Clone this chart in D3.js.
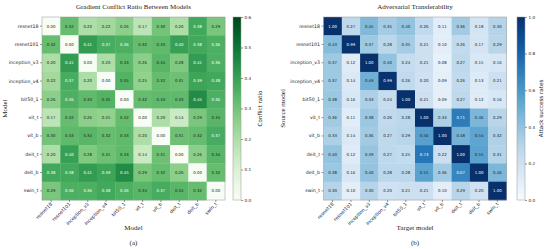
<!DOCTYPE html>
<html><head><meta charset="utf-8">
<script src="https://cdn.jsdelivr.net/npm/d3@7"></script>
<style>body{margin:0;background:#fff}svg{display:block}</style>
</head><body>
<svg id="c" width="550" height="249"></svg>
<script>
const models = ["resnet18","resnet101","inception_v3","inception_v4","bit50_1","vit_t","vit_b","deit_t","deit_b","swin_t"];
const conflict = [
 [0.00,0.32,0.20,0.22,0.26,0.17,0.30,0.20,0.38,0.29],
 [0.32,0.00,0.41,0.37,0.36,0.32,0.33,0.40,0.38,0.36],
 [0.20,0.41,0.00,0.20,0.33,0.26,0.34,0.28,0.41,0.36],
 [0.22,0.37,0.20,0.00,0.35,0.25,0.32,0.31,0.39,0.38],
 [0.26,0.36,0.33,0.35,0.00,0.32,0.33,0.33,0.45,0.36],
 [0.17,0.32,0.26,0.25,0.32,0.00,0.20,0.14,0.29,0.34],
 [0.30,0.33,0.34,0.32,0.33,0.20,0.00,0.31,0.32,0.37],
 [0.20,0.40,0.28,0.31,0.33,0.14,0.31,0.00,0.26,0.34],
 [0.38,0.38,0.41,0.39,0.45,0.29,0.32,0.26,0.00,0.32],
 [0.29,0.36,0.36,0.38,0.36,0.34,0.37,0.34,0.32,0.00]
];
const transfer = [
 [1.00,0.27,0.45,0.35,0.40,0.26,0.11,0.36,0.18,0.30],
 [0.43,0.99,0.37,0.28,0.35,0.21,0.10,0.26,0.17,0.29],
 [0.37,0.12,1.00,0.40,0.24,0.21,0.08,0.27,0.15,0.16],
 [0.37,0.14,0.49,0.99,0.26,0.20,0.09,0.26,0.13,0.21],
 [0.38,0.16,0.33,0.24,1.00,0.21,0.09,0.27,0.12,0.16],
 [0.36,0.11,0.38,0.26,0.28,1.00,0.33,0.71,0.46,0.29],
 [0.33,0.14,0.36,0.27,0.29,0.56,1.00,0.48,0.54,0.32],
 [0.40,0.12,0.39,0.27,0.25,0.73,0.22,1.00,0.55,0.31],
 [0.38,0.16,0.40,0.28,0.28,0.55,0.36,0.67,1.00,0.46],
 [0.30,0.10,0.30,0.20,0.21,0.21,0.10,0.29,0.20,1.00]
];
const conflictTicks = [0.0,0.1,0.2,0.3,0.4,0.5,0.6];
const transferTicks = [0.0,0.2,0.4,0.6,0.8,1.0];

const svg = d3.select("#c");
const SANS = "DejaVu Sans, sans-serif";
const SERIF = "Liberation Serif, Times New Roman, serif";

function panel(o){
  const g = svg.append("g");
  const x = d3.scaleBand().domain(models).range([o.x0, o.x1]);
  const y = d3.scaleBand().domain(models).range([o.y0, o.y1]);
  const color = d3.scaleSequential(o.interp).domain([0, o.vmax]);
  const cells = [];
  o.data.forEach((row,i)=>row.forEach((v,j)=>cells.push({r:models[i],c:models[j],v})));
  g.selectAll("rect.cell").data(cells).join("rect")
    .attr("x",d=>x(d.c)).attr("y",d=>y(d.r))
    .attr("width",x.bandwidth()+0.3).attr("height",y.bandwidth()+0.3)
    .attr("fill",d=>color(d.v));
  g.selectAll("text.val").data(cells).join("text")
    .attr("x",d=>x(d.c)+x.bandwidth()/2).attr("y",d=>y(d.r)+y.bandwidth()/2)
    .attr("dy","0.35em").attr("text-anchor","middle")
    .attr("font-family",SANS).attr("font-size",3.9)
    .attr("fill",d=> d.v/o.vmax >= 0.595 ? "#fff" : "#222")
    .text(d=>d.v.toFixed(2));
  g.append("rect").attr("x",o.x0).attr("y",o.y0).attr("width",o.x1-o.x0).attr("height",o.y1-o.y0)
    .attr("fill","none").attr("stroke","#999").attr("stroke-width",0.5);
  // axes
  const ax = g.append("g").attr("transform",`translate(0,${o.y1})`)
    .call(d3.axisBottom(x).tickSize(2).tickPadding(1.5));
  ax.select(".domain").remove();
  ax.selectAll("line").attr("stroke","#333").attr("stroke-width",0.5);
  ax.selectAll("text").attr("font-family",SANS).attr("font-size",4.7).attr("fill","#222")
    .attr("text-anchor","end").attr("dy","0.3em")
    .attr("transform","translate(-2,1) rotate(-45)");
  const ay = g.append("g").attr("transform",`translate(${o.x0},0)`)
    .call(d3.axisLeft(y).tickSize(2).tickPadding(1.5));
  ay.select(".domain").remove();
  ay.selectAll("line").attr("stroke","#333").attr("stroke-width",0.5);
  ay.selectAll("text").attr("font-family",SANS).attr("font-size",4.7).attr("fill","#222");
  // colorbar
  const cb = o.cbx, cw = 8;
  const cy = d3.scaleLinear().domain([0,o.vmax]).range([o.y1,o.y0]);
  const gid = "grad"+o.id;
  const grad = svg.append("defs").append("linearGradient").attr("id",gid)
    .attr("x1",0).attr("y1",1).attr("x2",0).attr("y2",0);
  d3.range(0,1.0001,0.05).forEach(t=>grad.append("stop").attr("offset",t).attr("stop-color",o.interp(t)));
  g.append("rect").attr("x",cb).attr("y",o.y0).attr("width",cw).attr("height",o.y1-o.y0)
    .attr("fill",`url(#${gid})`).attr("stroke","#999").attr("stroke-width",0.5);
  const ac = g.append("g").attr("transform",`translate(${cb+cw},0)`)
    .call(d3.axisRight(cy).tickValues(o.ticks).tickFormat(d3.format(".1f")).tickSize(2).tickPadding(1.5));
  ac.select(".domain").remove();
  ac.selectAll("line").attr("stroke","#333").attr("stroke-width",0.5);
  ac.selectAll("text").attr("font-family",SANS).attr("font-size",4.2).attr("fill","#222");
  g.append("text").attr("transform",`translate(${o.cblabx},${(o.y0+o.y1)/2}) rotate(-90)`)
    .attr("text-anchor","middle").attr("dy","0.35em").attr("font-family",SANS).attr("font-size",5.6)
    .attr("fill","#222").text(o.cblabel);
  // titles / labels
  const cx = (o.x0+o.x1)/2;
  g.append("text").attr("x",cx).attr("y",8.5).attr("text-anchor","middle")
    .attr("font-family",SERIF).attr("font-size",7).attr("fill","#222").text(o.title);
  g.append("text").attr("x",cx).attr("y",230).attr("text-anchor","middle")
    .attr("font-family",SERIF).attr("font-size",7).attr("fill","#222").text(o.xlabel);
  g.append("text").attr("transform",`translate(${o.ylabx},${(o.y0+o.y1)/2}) rotate(-90)`)
    .attr("text-anchor","middle").attr("dy","0.35em")
    .attr("font-family",SERIF).attr("font-size",7).attr("fill","#222").text(o.ylabel);
  g.append("text").attr("x",cx).attr("y",244.5).attr("text-anchor","middle")
    .attr("font-family",SERIF).attr("font-size",7).attr("fill","#222").text(o.tag);
}

panel({id:"a",data:conflict,vmax:0.6,interp:d3.interpolateGreens,ticks:conflictTicks,
  x0:42,x1:225,y0:17,y1:200,cbx:233,cblabx:260,cblabel:"Conflict ratio",
  title:"Gradient Conflict Ratio Between Models",xlabel:"Model",ylabel:"Model",ylabx:5,tag:"(a)"});
panel({id:"b",data:transfer,vmax:1.0,interp:d3.interpolateBlues,ticks:transferTicks,
  x0:323.5,x1:506.5,y0:17,y1:200,cbx:517,cblabx:541,cblabel:"Attack success rates",
  title:"Adversarial Transferability",xlabel:"Target model",ylabel:"Source model",ylabx:283,tag:"(b)"});
</script>
</body></html>
